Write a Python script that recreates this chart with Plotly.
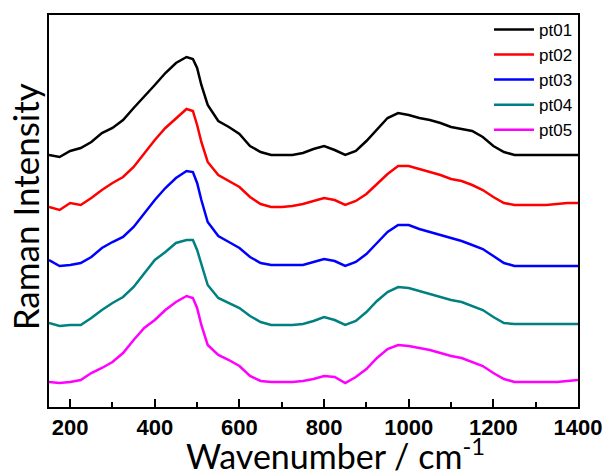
import plotly.graph_objects as go

wavenumber = [150, 175, 200, 225, 250, 275, 300, 325, 350, 375, 400, 425, 450, 475,
              490, 500, 510,
              525, 550, 575, 600, 625, 650, 675, 700, 725, 750, 775, 800, 825, 850, 875,
              900, 925, 950, 975, 1000, 1025, 1050, 1075, 1100, 1125, 1150, 1175, 1200,
              1225, 1250, 1275, 1300, 1325, 1350, 1375, 1400]

pt01 = [245, 243, 249, 252, 258, 267, 272, 280, 292, 303, 315, 327, 337, 343,
        341, 332, 315,
        295, 279, 273, 266, 254, 248, 245, 245, 245, 247, 251, 254, 250, 245, 249,
        259, 270, 282, 287, 285, 282, 280, 277, 273, 271, 269, 263, 254,
        248, 245, 245, 245, 245, 245, 245, 245]
pt02 = [193, 190, 197, 195, 202, 210, 217, 223, 233, 247, 260, 272, 282, 291,
        289, 275, 258,
        238, 225, 219, 213, 203, 196, 193, 193, 194, 196, 199, 202, 200, 195, 199,
        206, 216, 226, 234, 234, 231, 228, 225, 221, 219, 215, 210, 203,
        197, 195, 195, 195, 195, 196, 197, 197]
pt03 = [140, 134, 135, 137, 143, 152, 158, 163, 173, 187, 200, 212, 222, 229,
        228, 217, 200,
        178, 164, 158, 152, 143, 137, 135, 135, 135, 135, 138, 141, 139, 134, 138,
        146, 157, 168, 175, 175, 171, 168, 165, 162, 159, 155, 151, 144,
        137, 134, 134, 134, 134, 134, 134, 134]
pt04 = [77, 74, 75, 75, 82, 90, 97, 103, 113, 127, 140, 148, 157, 160,
        160, 150, 135,
        115, 102, 97, 92, 84, 78, 75, 75, 75, 76, 79, 83, 80, 75, 79,
        88, 99, 108, 113, 112, 109, 106, 103, 100, 98, 94, 90, 83,
        77, 76, 76, 76, 76, 76, 76, 76]
pt05 = [18, 17, 18, 20, 27, 32, 38, 47, 60, 72, 80, 90, 98, 104,
        102, 92, 75,
        55, 45, 40, 34, 24, 19, 18, 18, 18, 19, 21, 24, 23, 17, 23,
        31, 42, 51, 55, 54, 52, 50, 47, 44, 42, 38, 34, 27,
        21, 18, 18, 18, 18, 18, 19, 20]

names = ["pt01", "pt02", "pt03", "pt04", "pt05"]
series = [pt01, pt02, pt03, pt04, pt05]
colors = ["#000000", "#FF0000", "#0000FF", "#008080", "#FF00FF"]
x_ticks = [200, 400, 600, 800, 1000, 1200, 1400]
x_minor = [300, 500, 700, 900, 1100, 1300]

fig = go.Figure()
for name, ys, c in zip(names, series, colors):
    fig.add_trace(go.Scatter(x=wavenumber, y=ys, mode="lines", name=name,
                             line=dict(color=c, width=2.5)))

fig.update_layout(
    width=608, height=471,
    margin=dict(l=49, r=30, t=15, b=64, autoexpand=False),
    paper_bgcolor="white", plot_bgcolor="white",
    showlegend=True,
    legend=dict(x=1, xanchor="right", y=1.008, yanchor="top",
                bgcolor="rgba(0,0,0,0)",
                font=dict(family="Liberation Sans, Arial", size=17, color="black"),
                tracegroupgap=0, itemwidth=40),
    xaxis=dict(range=[150, 1400], tickvals=x_ticks,
               ticktext=["<b>%d</b>" % v for v in x_ticks],
               ticks="inside", ticklen=8, tickwidth=1.5, tickcolor="black",
               minor=dict(tickvals=x_minor, ticks="inside", ticklen=5, tickwidth=1.5, tickcolor="black"),
               showline=True, linecolor="black", linewidth=1.5, mirror=True,
               showgrid=False, zeroline=False, automargin=False,
               tickfont=dict(family="Liberation Sans, Arial", size=22, color="black", weight="bold")),
    yaxis=dict(range=[-7, 385], showticklabels=False, ticks="",
               showline=True, linecolor="black", linewidth=1.5, mirror=True,
               showgrid=False, zeroline=False, automargin=False),
    annotations=[
        dict(text="Wavenumber / cm<sup>-1</sup>", xref="paper", yref="paper",
             x=0.5425, y=-0.121, xanchor="center", yanchor="middle", showarrow=False,
             font=dict(family="Lato", size=34, color="black")),
        dict(text="Raman Intensity", xref="paper", yref="paper", textangle=-90,
             x=-0.046, y=0.511, xanchor="center", yanchor="middle", showarrow=False,
             font=dict(family="Lato", size=35, color="black")),
    ],
)

fig.write_html("out.html", config={"displayModeBar": False},
               post_script="document.body.style.margin='0';")
